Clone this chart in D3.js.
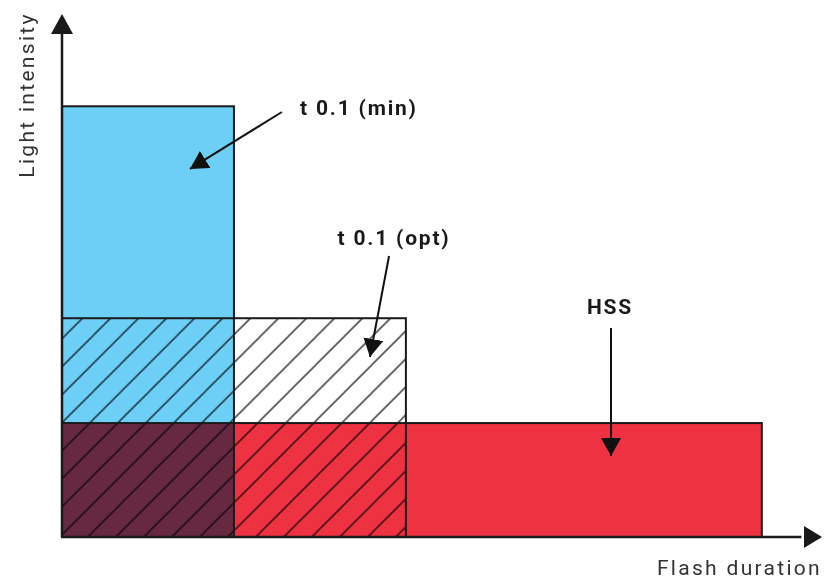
<!DOCTYPE html>
<html>
<head>
  <meta charset="utf-8">
  <script src="https://d3js.org/d3.v7.min.js"></script>
  <style>
    body { margin: 0; background: #fff; }
    .axis-label { font-family: Roboto, sans-serif; font-size: 21px; fill: #333; letter-spacing: 2.3px; }
    .note { font-family: Roboto, sans-serif; font-size: 21px; font-weight: bold; fill: #1a1a1a; letter-spacing: 1.8px; }
  </style>
</head>
<body>
  <script>

    // flash modes: duration and intensity (arbitrary units)
    var modes = ["t 0.1 (min)", "t 0.1 (opt)", "HSS"];
    var durations = [1.0, 2.0, 4.07];
    var intensities = [3.78, 1.92, 1.0];

    // annotations in data units: label position, arrow start, arrow tip
    var noteX = [1.384, 1.931, 3.187];
    var noteY = [3.765, 2.624, 2.019];
    var noteAnchor = ["start", "middle", "middle"];
    var arrowFrom = [[1.279, 3.73], [1.902, 2.466], [3.193, 1.834]];
    var arrowTo = [[0.744, 3.23], [1.791, 1.58], [3.193, 0.711]];

    var width = 824, height = 579;

    var x = d3.scaleLinear().domain([0, 4.42]).range([62, 822]);
    var y = d3.scaleLinear().domain([0, 4.59]).range([537, 14]);

    var svg = d3.select("body").append("svg")
        .attr("width", width)
        .attr("height", height);

    var defs = svg.append("defs");

    // diagonal hatching
    var pat = defs.append("pattern")
        .attr("id", "hatch")
        .attr("patternUnits", "userSpaceOnUse")
        .attr("x", 8.7)
        .attr("width", 28)
        .attr("height", 28);
    pat.append("path")
        .attr("d", "M-2,2 L2,-2 M0,28 L28,0 M26,30 L30,26")
        .attr("stroke", "#222")
        .attr("stroke-opacity", 0.8)
        .attr("stroke-width", 1.6);

    defs.append("marker")
        .attr("id", "head")
        .attr("viewBox", "0 0 18 20")
        .attr("refX", 18).attr("refY", 10)
        .attr("markerUnits", "userSpaceOnUse")
        .attr("markerWidth", 18).attr("markerHeight", 20)
        .attr("orient", "auto")
      .append("path")
        .attr("d", "M0,0 L18,10 L0,20 Z")
        .attr("fill", "#111");

    // blue: minimum flash duration
    svg.append("rect")
        .attr("x", x(0)).attr("y", y(intensities[0]))
        .attr("width", x(durations[0]) - x(0))
        .attr("height", y(0) - y(intensities[0]))
        .attr("fill", "#6ecff6");

    // red: HSS, multiplied over the blue
    svg.append("rect")
        .attr("x", x(0)).attr("y", y(intensities[2]))
        .attr("width", x(durations[2]) - x(0))
        .attr("height", y(0) - y(intensities[2]))
        .attr("fill", "#ee3242")
        .style("mix-blend-mode", "multiply");

    // hatched: optimum
    svg.append("rect")
        .attr("x", x(0)).attr("y", y(intensities[1]))
        .attr("width", x(durations[1]) - x(0))
        .attr("height", y(0) - y(intensities[1]))
        .attr("fill", "url(#hatch)")
        .style("mix-blend-mode", "multiply");

    // outlines
    svg.selectAll(".outline")
        .data(d3.range(3))
      .enter().append("rect")
        .attr("class", "outline")
        .attr("x", x(0))
        .attr("y", function(i) { return y(intensities[i]); })
        .attr("width", function(i) { return x(durations[i]) - x(0); })
        .attr("height", function(i) { return y(0) - y(intensities[i]); })
        .attr("fill", "none")
        .attr("stroke", "#1a1a1a")
        .attr("stroke-width", 2);

    // axes with arrowheads
    svg.append("line")
        .attr("x1", x(0)).attr("y1", y(0))
        .attr("x2", x(0)).attr("y2", y(4.42))
        .attr("stroke", "#1a1a1a").attr("stroke-width", 2.5);
    svg.append("path")
        .attr("d", "M" + x(0) + "," + y(4.59) + " l-11,20 l22,0 Z")
        .attr("fill", "#1a1a1a");

    svg.append("line")
        .attr("x1", x(0) - 1).attr("y1", y(0))
        .attr("x2", x(4.3)).attr("y2", y(0))
        .attr("stroke", "#1a1a1a").attr("stroke-width", 2.5);
    svg.append("path")
        .attr("d", "M" + x(4.42) + "," + y(0) + " l-18,-11 l0,22 Z")
        .attr("fill", "#1a1a1a");

    svg.append("text")
        .attr("class", "axis-label")
        .attr("transform", "translate(34,95) rotate(-90)")
        .attr("text-anchor", "middle")
        .text("Light intensity");

    svg.append("text")
        .attr("class", "axis-label")
        .attr("x", 822).attr("y", 575)
        .attr("text-anchor", "end")
        .text("Flash duration");

    // annotations
    modes.forEach(function(m, i) {
      svg.append("text")
          .attr("class", "note")
          .attr("x", x(noteX[i])).attr("y", y(noteY[i]))
          .attr("dy", "0.35em")
          .attr("text-anchor", noteAnchor[i])
          .text(m);
      svg.append("line")
          .attr("x1", x(arrowFrom[i][0])).attr("y1", y(arrowFrom[i][1]))
          .attr("x2", x(arrowTo[i][0])).attr("y2", y(arrowTo[i][1]))
          .attr("stroke", "#111").attr("stroke-width", 2)
          .attr("marker-end", "url(#head)");
    });

  </script>
</body>
</html>
